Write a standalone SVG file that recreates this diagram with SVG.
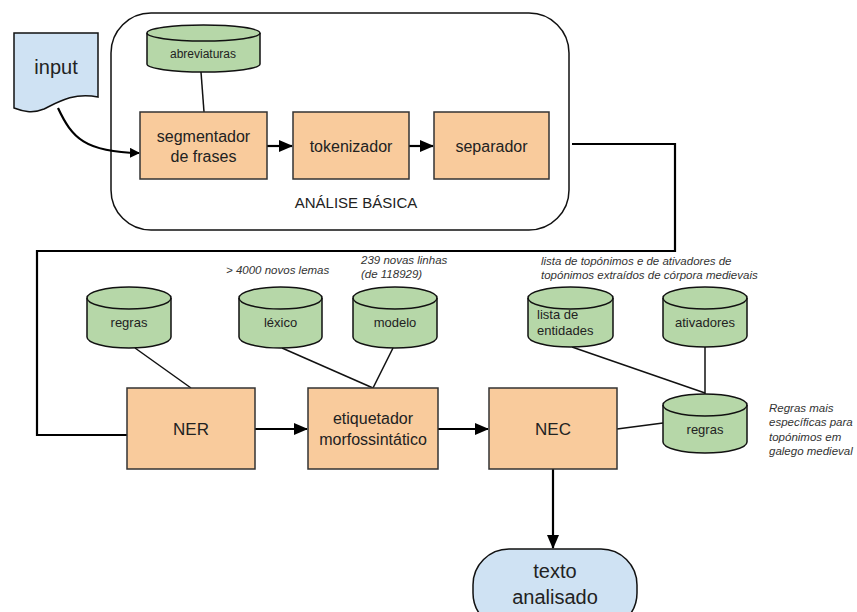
<svg xmlns="http://www.w3.org/2000/svg" width="857" height="612" viewBox="0 0 857 612">
<style>
text{font-family:"Liberation Sans",Arial,sans-serif;fill:#222;text-anchor:middle}
.box{fill:#f9cb9c;stroke:#333;stroke-width:1.5}
.cyl{fill:#b6d7a8;stroke:#111;stroke-width:1.5}
.blue{fill:#cfe2f3;stroke:#111;stroke-width:1.5}
.ln{fill:none;stroke:#111;stroke-width:1.5}
.ar{fill:none;stroke:#000;stroke-width:2.2}
.note{font-style:italic;font-size:11.5px;text-anchor:start;fill:#333}
.bl{font-size:16px}
.cl{font-size:13px}
</style>
<defs>
<marker id="ah" markerWidth="10" markerHeight="10" refX="9" refY="5" orient="auto" markerUnits="userSpaceOnUse">
<path d="M0,0 L10,5 L0,10 Z" fill="#000"/>
</marker>
<marker id="ah2" markerWidth="14" markerHeight="12" refX="13" refY="6" orient="auto" markerUnits="userSpaceOnUse">
<path d="M0,0 L14,6 L0,12 Z" fill="#000"/>
</marker>
</defs>

<g id="analise-basica">
<rect x="111" y="13" width="458" height="217" rx="40" fill="#fff" stroke="#111" stroke-width="1.5"/>
<text x="356" y="208" font-size="15">ANÁLISE BÁSICA</text>
</g>

<g id="connectors">
<line class="ln" x1="201" y1="72" x2="204" y2="112"/>
<line class="ln" x1="135" y1="348" x2="191" y2="388"/>
<line class="ln" x1="282" y1="348" x2="373" y2="388"/>
<line class="ln" x1="393" y1="348" x2="373" y2="388"/>
<line class="ln" x1="572" y1="347" x2="705" y2="393"/>
<line class="ln" x1="705" y1="347" x2="705" y2="394"/>
<line class="ln" x1="617" y1="429" x2="663" y2="423"/>
<path class="ar" d="M58,108 C72,138 85,152 139,153" marker-end="url(#ah)"/>
<line class="ar" x1="267" y1="146" x2="292" y2="146" marker-end="url(#ah2)"/>
<line class="ar" x1="409" y1="146" x2="433" y2="146" marker-end="url(#ah2)"/>
<polyline class="ar" points="572,144 675,144 675,251 37,251 37,435 127,435"/>
<line class="ar" x1="255" y1="429" x2="307" y2="429" marker-end="url(#ah2)"/>
<line class="ar" x1="438" y1="429" x2="488" y2="429" marker-end="url(#ah2)"/>
<line class="ar" x1="553" y1="469" x2="553" y2="548" marker-end="url(#ah2)"/>
</g>

<g id="input">
<path class="blue" d="M14,33 H98 V97 C74,92 58,102 44,109 C32,114 22,111 14,108 Z"/>
<text x="56" y="74" font-size="20">input</text>
</g>

<g id="abreviaturas">
<path class="cyl" d="M147,33 a56.5,8 0 0 1 113,0 v31 a56.5,8 0 0 1 -113,0 Z"/>
<path class="ln" d="M147,33 a56.5,8 0 0 0 113,0"/>
<text x="203" y="58" font-size="12">abreviaturas</text>
</g>

<g id="segmentador">
<rect class="box" x="140" y="112" width="127" height="67"/>
<text class="bl" x="203.5" y="142">segmentador</text>
<text class="bl" x="203.5" y="162">de frases</text>
</g>

<g id="tokenizador">
<rect class="box" x="293" y="112" width="116" height="67"/>
<text class="bl" x="351" y="152">tokenizador</text>
</g>

<g id="separador">
<rect class="box" x="434" y="112" width="115" height="67"/>
<text class="bl" x="491.5" y="152">separador</text>
</g>

<g id="regras1">
<path class="cyl" d="M87,298 a42,11 0 0 1 84,0 v39 a42,11 0 0 1 -84,0 Z"/>
<path class="ln" d="M87,298 a42,11 0 0 0 84,0"/>
<text class="cl" x="129" y="327">regras</text>
</g>

<g id="lexico">
<path class="cyl" d="M239,298 a41.5,11 0 0 1 83,0 v39 a41.5,11 0 0 1 -83,0 Z"/>
<path class="ln" d="M239,298 a41.5,11 0 0 0 83,0"/>
<text class="cl" x="280.5" y="327">léxico</text>
</g>

<g id="modelo">
<path class="cyl" d="M353,298 a42,11 0 0 1 84,0 v39 a42,11 0 0 1 -84,0 Z"/>
<path class="ln" d="M353,298 a42,11 0 0 0 84,0"/>
<text class="cl" x="395" y="327">modelo</text>
</g>

<g id="lista-entidades">
<path class="cyl" d="M528,298 a42.5,11 0 0 1 85,0 v38 a42.5,11 0 0 1 -85,0 Z"/>
<path class="ln" d="M528,298 a42.5,11 0 0 0 85,0"/>
<text class="cl" x="537" y="319" style="text-anchor:start">lista de</text>
<text class="cl" x="537" y="335" style="text-anchor:start">entidades</text>
</g>

<g id="ativadores">
<path class="cyl" d="M663,298 a42,11 0 0 1 84,0 v38 a42,11 0 0 1 -84,0 Z"/>
<path class="ln" d="M663,298 a42,11 0 0 0 84,0"/>
<text class="cl" x="705" y="327">ativadores</text>
</g>

<g id="regras2">
<path class="cyl" d="M663,405 a42,11 0 0 1 84,0 v37 a42,11 0 0 1 -84,0 Z"/>
<path class="ln" d="M663,405 a42,11 0 0 0 84,0"/>
<text class="cl" x="705" y="434">regras</text>
</g>

<g id="ner">
<rect class="box" x="127" y="388" width="128" height="81"/>
<text x="191" y="435" font-size="17">NER</text>
</g>

<g id="etiquetador">
<rect class="box" x="308" y="388" width="130" height="81"/>
<text class="bl" x="373" y="424">etiquetador</text>
<text class="bl" x="373" y="445">morfossintático</text>
</g>

<g id="nec">
<rect class="box" x="489" y="388" width="128" height="81"/>
<text x="553" y="435" font-size="17">NEC</text>
</g>

<g id="texto-analisado">
<rect class="blue" x="473" y="549" width="164" height="80" rx="36"/>
<text x="555" y="578" font-size="20">texto</text>
<text x="555" y="604" font-size="20">analisado</text>
</g>

<g id="notes">
<text class="note" x="226" y="274">&gt; 4000 novos lemas</text>
<text class="note" x="361" y="264">239 novas linhas</text>
<text class="note" x="361" y="278">(de 118929)</text>
<text class="note" x="541" y="265">lista de topónimos e de ativadores de</text>
<text class="note" x="541" y="279">topónimos extraídos de córpora medievais</text>
<text class="note" x="769" y="412">Regras mais</text>
<text class="note" x="769" y="426">específicas para</text>
<text class="note" x="769" y="441">topónimos em</text>
<text class="note" x="769" y="455">galego medieval</text>
</g>
</svg>
